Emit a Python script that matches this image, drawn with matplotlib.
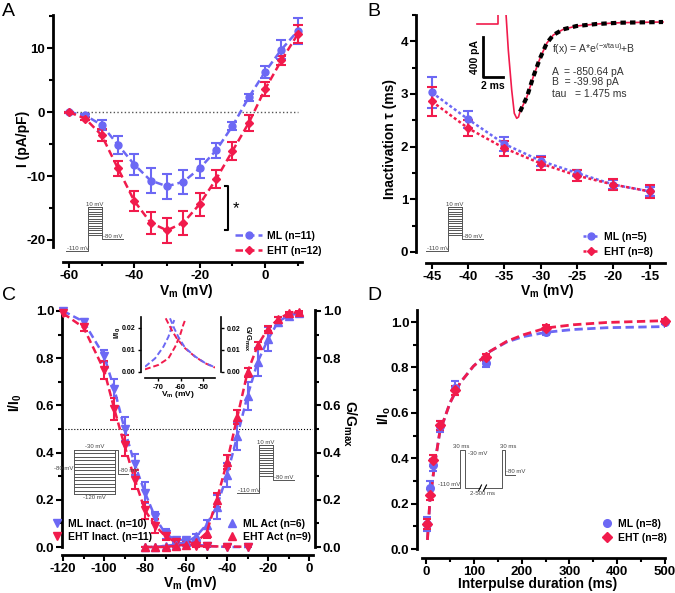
import matplotlib
matplotlib.use('Agg')
import matplotlib.pyplot as plt
from matplotlib.lines import Line2D
from matplotlib.ticker import MultipleLocator, FormatStrFormatter
import numpy as np

plt.rcParams['font.family'] = ['Liberation Sans', 'DejaVu Sans']
plt.rcParams['font.weight'] = 'bold'
plt.rcParams['axes.unicode_minus'] = False
plt.rcParams['mathtext.default'] = 'regular'

W, H = 675, 593
BLUE = '#6c68f4'
RED = '#f11b4c'
GREY = '#555555'

# A: I-V relation
A_v = [-60, -55, -50, -45, -40, -35, -30, -25, -20, -15, -10, -5, 0, 5, 10]
A_ml = [0.0, -0.5, -2.0, -5.1, -8.2, -10.7, -11.6, -10.9, -8.8, -6.0, -2.2, 2.3, 6.3, 9.8, 12.7]
A_ml_err = [0.1, 0.2, 0.8, 1.4, 1.6, 2.0, 2.0, 1.9, 1.5, 1.2, 0.6, 0.5, 0.9, 1.5, 2.1]
A_eht = [0.0, -1.0, -3.6, -8.8, -13.9, -17.3, -18.5, -17.3, -14.4, -10.5, -6.1, -1.7, 3.6, 8.1, 12.2]
A_eht_err = [0.1, 0.3, 0.9, 1.2, 1.6, 1.7, 2.0, 1.9, 1.8, 1.4, 1.4, 1.2, 1.1, 0.7, 1.4]

# B: inactivation time constant
B_v = [-45, -40, -35, -30, -25, -20, -15]
B_ml = [3.03, 2.52, 2.05, 1.73, 1.50, 1.28, 1.15]
B_ml_err = [0.30, 0.16, 0.13, 0.10, 0.06, 0.08, 0.08]
B_eht = [2.86, 2.35, 1.97, 1.68, 1.45, 1.28, 1.15]
B_eht_err = [0.27, 0.15, 0.14, 0.13, 0.10, 0.10, 0.12]

# B inset: example current trace (ms, pA) and its exponential fit
trace_pre_t = [-4.0, -1.93, -1.93]
trace_pre_i = [-60, -60, 40]
trace_t = [-1.1, -0.87, -0.53, -0.27, -0.03, 0.15, 0.3, 1.0, 1.63, 2.3, 2.97, 3.63, 4.63, 5.97, 7.97, 10.3, 14.6]
trace_i = [40, -320, -720, -953, -1003, -990, -937, -787, -587, -403, -253, -170, -113, -80, -60, -47, -40]
fit_t = [0.3, 1.0, 1.63, 2.3, 2.97, 3.63, 4.63, 5.97, 7.97, 10.3, 14.6]
fit_i = [-937, -787, -587, -403, -253, -170, -113, -80, -60, -47, -40]
fit_text = ['f(x) = A*e$^{(-x/tau)}$+B', 'A  = -850.64 pA', 'B  = -39.98 pA', 'tau   = 1.475 ms']

# C: steady-state inactivation and activation
C_inact_v = [-120, -110, -100, -95, -90, -85, -80, -75, -70, -65, -60, -55, -50, -40, -30]
C_ml_inact = [1.0, 0.955, 0.81, 0.67, 0.50, 0.35, 0.23, 0.125, 0.055, 0.03, 0.03, 0.01, 0.005, 0.0, 0.0]
C_ml_inact_err = [0.01, 0.01, 0.025, 0.04, 0.05, 0.045, 0.045, 0.025, 0.02, 0.01, 0.01, 0.005, 0.005, 0.002, 0.002]
C_eht_inact = [0.99, 0.93, 0.75, 0.585, 0.43, 0.285, 0.155, 0.09, 0.045, 0.02, 0.01, 0.005, 0.003, 0.002, 0.001]
C_eht_inact_err = [0.01, 0.015, 0.04, 0.045, 0.045, 0.04, 0.035, 0.03, 0.015, 0.01, 0.005, 0.003, 0.002, 0.002, 0.002]
C_act_v = [-80, -75, -70, -65, -60, -55, -50, -45, -40, -35, -30, -25, -20, -15, -10, -5]
C_ml_act = [0.0, 0.0, 0.005, 0.01, 0.02, 0.045, 0.095, 0.17, 0.305, 0.47, 0.64, 0.785, 0.88, 0.955, 0.98, 0.99]
C_ml_act_err = [0.0, 0.0, 0.0, 0.005, 0.01, 0.01, 0.02, 0.05, 0.05, 0.06, 0.06, 0.06, 0.05, 0.02, 0.01, 0.005]
C_eht_act = [0.0, 0.0, 0.0, 0.005, 0.01, 0.02, 0.06, 0.20, 0.36, 0.55, 0.74, 0.855, 0.925, 0.965, 0.99, 0.995]
C_eht_act_err = [0.0, 0.0, 0.0, 0.003, 0.005, 0.005, 0.02, 0.03, 0.03, 0.03, 0.02, 0.015, 0.01, 0.01, 0.005, 0.003]

# C inset: window current region
win_ml_rise_v = [-75.8, -71.3, -67.6, -65.4, -63.9, -62.8]
win_ml_rise = [0.0024, 0.0062, 0.0115, 0.016, 0.0206, 0.0236]
win_eht_rise_v = [-75.8, -69.9, -65.4, -62.4, -60.2, -58.8, -57.7]
win_eht_rise = [0.0012, 0.0032, 0.0062, 0.0115, 0.0168, 0.0214, 0.0244]
win_eht_fall_v = [-66.6, -63.9, -61.7, -58.0, -53.6, -49.1, -44.7]
win_eht_fall = [0.0244, 0.019, 0.0153, 0.0108, 0.007, 0.004, 0.002]
win_ml_fall_v = [-64.7, -62.8, -61.0, -58.0, -53.6, -49.1, -44.7]
win_ml_fall = [0.0244, 0.0198, 0.016, 0.0110, 0.0071, 0.0041, 0.0021]

# D: recovery from inactivation
D_t = [3, 8, 15, 30, 60, 125, 250, 500]
D_ml = [0.11, 0.27, 0.37, 0.54, 0.71, 0.82, 0.955, 1.0]
D_ml_err = [0.03, 0.03, 0.025, 0.025, 0.03, 0.02, 0.01, 0.01]
D_eht = [0.11, 0.24, 0.39, 0.545, 0.70, 0.845, 0.975, 1.005]
D_eht_err = [0.02, 0.025, 0.025, 0.02, 0.02, 0.015, 0.01, 0.01]
D_fit_t = [3, 8, 17, 29, 50, 71, 99, 134, 169, 204, 252, 308, 378, 500]
D_fit_ml = [0.04, 0.21, 0.357, 0.518, 0.643, 0.731, 0.805, 0.871, 0.912, 0.936, 0.955, 0.967, 0.975, 0.98]
D_fit_eht = [0.04, 0.21, 0.357, 0.518, 0.643, 0.731, 0.805, 0.871, 0.915, 0.944, 0.974, 0.988, 0.998, 1.006]

fig = plt.figure(figsize=(W / 100, H / 100), dpi=100)


def px_axes(l, t, r, b):
    return fig.add_axes([l / W, 1 - b / H, (r - l) / W, (b - t) / H])


def pt(p):  # pixels -> points
    return p * 0.72


def style(ax, left_off, bottom_off, lw=2, size=9.5):
    for s in ['top', 'right']:
        ax.spines[s].set_visible(False)
    ax.spines['left'].set_position(('outward', pt(left_off)))
    ax.spines['bottom'].set_position(('outward', pt(bottom_off)))
    for s in ['left', 'bottom']:
        ax.spines[s].set_linewidth(lw)
    ax.tick_params(which='major', length=4, width=1.5, labelsize=size, pad=1.5)
    ax.tick_params(which='minor', length=2.8, width=1.5)
    ax.patch.set_visible(False)


def errplot(ax, x, y, e, color, marker, ms, dashes=None, lw=1.8, cap=3.5):
    ax.errorbar(x, y, yerr=e, fmt='none', ecolor=color, elinewidth=1.5,
                capsize=cap, capthick=1.5, zorder=3)
    if dashes is None:
        ln, = ax.plot(x, y, ls='none', color=color, marker=marker, ms=ms, zorder=4, clip_on=False)
    else:
        ln, = ax.plot(x, y, color=color, lw=lw, dashes=dashes, marker=marker, ms=ms,
                      zorder=4, clip_on=False)
    return ln


def legend_at(ax, handles, labels, x, y, hl, spacing=0.4):
    return ax.legend(handles, labels, loc='upper left', numpoints=1,
                     bbox_to_anchor=(x / W, 1 - y / H), bbox_transform=fig.transFigure,
                     frameon=False, borderpad=0, borderaxespad=0, handlelength=hl,
                     handletextpad=0.5, labelspacing=spacing,
                     prop={'size': 7.5, 'weight': 'bold'})


def ftext(x, y, s, **kw):
    fig.text(x / W, 1 - y / H, s, **kw)


# ---------- A ----------
axA = px_axes(63, 15, 302, 247)
style(axA, 10, 15)
axA.set_xlim(-61.8, 11.3)
axA.set_ylim(-21.1, 15.2)
axA.xaxis.set_major_locator(MultipleLocator(20))
axA.xaxis.set_minor_locator(MultipleLocator(10))
axA.yaxis.set_major_locator(MultipleLocator(10))
axA.yaxis.set_minor_locator(MultipleLocator(5))
axA.plot([A_v[0], A_v[-1]], [0, 0], ls=':', color=GREY, lw=1, zorder=1)
hA1 = errplot(axA, A_v, A_ml, A_ml_err, BLUE, 'o', 5, dashes=(3, 1.6))
hA2 = errplot(axA, A_v, A_eht, A_eht_err, RED, 'D', 4.5, dashes=(3, 1.6))
bx = -11.3
axA.plot([bx - 1, bx, bx, bx - 1], [min(A_ml), min(A_ml), min(A_eht), min(A_eht)],
         color='k', lw=1.5, clip_on=False)
axA.text(bx + 1.5, (min(A_ml) + min(A_eht)) / 2, '*', fontsize=12, fontweight='normal',
         ha='left', va='center')
legend_at(axA, [hA1, hA2], ['ML (n=11)', 'EHT (n=12)'], 235, 231, 2.6, 0.45)

# ---------- B ----------
axB = px_axes(426, 15, 665, 252)
style(axB, 10, 11)
axB.set_xlim(-45.8, -12.9)
axB.set_ylim(0, 4.5)
axB.set_xticks(B_v)
axB.yaxis.set_major_locator(MultipleLocator(1))
axB.yaxis.set_minor_locator(MultipleLocator(0.5))
hB1 = errplot(axB, B_v, B_ml, B_ml_err, BLUE, 'o', 5, dashes=(1.2, 1.0))
hB2 = errplot(axB, B_v, B_eht, B_eht_err, RED, 'D', 4.5, dashes=(1.2, 1.0))
legend_at(axB, [hB1, hB2], ['ML (n=5)', 'EHT (n=8)'], 583, 232, 1.5, 0.45)

insB = px_axes(470, 15, 670, 125)
insB.set_xlim(-4.7, 15.3)
insB.set_ylim(-1070, 30)
insB.axis('off')
insB.plot(trace_pre_t, trace_pre_i, color=RED, lw=1.2, clip_on=True)
insB.plot(trace_t, trace_i, color=RED, lw=1.2, clip_on=True)
insB.plot(fit_t, fit_i, color='k', lw=3, dashes=(1.3, 1.0))
insB.plot([-3.4, -3.4, -1.4], [-190, -590, -590], color='k', lw=2)
insB.text(-4.2, -390, '400 pA', rotation=90, fontsize=7.5, ha='center', va='center')
insB.text(-2.4, -680, '2 ms', fontsize=7.5, ha='center', va='center')
for txt, yy in zip(fit_text, [49, 72, 82, 94]):
    ftext(552, yy, txt, fontsize=7.5, fontweight='normal', color='#333333', va='center')

# ---------- C ----------
axC = px_axes(62, 310, 313, 547)
style(axC, 0, 8)
axC.set_xlim(-120.5, 1.95)
axC.set_ylim(0, 1.004)
axC.xaxis.set_major_locator(MultipleLocator(20))
axC.xaxis.set_minor_locator(MultipleLocator(10))
axC.yaxis.set_major_locator(MultipleLocator(0.2))
axC.yaxis.set_minor_locator(MultipleLocator(0.1))
axC.yaxis.set_major_formatter(FormatStrFormatter('%.1f'))
axC.axhline(0.5, color='k', lw=0.8, ls=':', zorder=1)
errplot(axC, C_inact_v, C_ml_inact, C_ml_inact_err, BLUE, 'v', 5.5, dashes=(3, 1.6), cap=3)
errplot(axC, C_inact_v, C_eht_inact, C_eht_inact_err, RED, 'v', 5.5, dashes=(3, 1.6), cap=3)
errplot(axC, C_act_v, C_ml_act, C_ml_act_err, BLUE, '^', 5.5, dashes=(3, 1.6), cap=3)
errplot(axC, C_act_v, C_eht_act, C_eht_act_err, RED, '^', 5.5, dashes=(3, 1.6), cap=3)

axC2 = axC.twinx()
axC2.set_ylim(axC.get_ylim())
for s in ['left', 'top', 'bottom']:
    axC2.spines[s].set_visible(False)
axC2.spines['right'].set_linewidth(2)
axC2.spines['right'].set_position(('outward', pt(2)))
axC2.yaxis.set_major_locator(MultipleLocator(0.2))
axC2.yaxis.set_minor_locator(MultipleLocator(0.1))
axC2.yaxis.set_major_formatter(FormatStrFormatter('%.1f'))
axC2.tick_params(which='major', length=4, width=1.5, labelsize=9.5, pad=1.5)
axC2.tick_params(which='minor', length=2.8, width=1.5)
axC2.patch.set_visible(False)

mk = lambda m, c: Line2D([], [], ls='none', marker=m, color=c, ms=5.5)
legC1 = legend_at(axC2, [mk('v', BLUE), mk('v', RED)],
                  ['ML Inact. (n=10)', 'EHT Inact. (n=11)'], 52, 519, 1.0, 0.25)
axC2.add_artist(legC1)
legend_at(axC2, [mk('^', BLUE), mk('^', RED)],
          ['ML Act (n=6)', 'EHT Act (n=9)'], 227, 519, 1.0, 0.25)

insC = px_axes(145, 317, 215, 372)
style(insC, 4, 6, lw=1.2, size=5)
insC.tick_params(which='major', length=2.5, width=1)
insC.set_xlim(-75.8, -44.7)
insC.set_ylim(0, 0.025)
insC.set_xticks([-70, -60, -50])
insC.set_yticks([0, 0.01, 0.02])
insC.yaxis.set_major_formatter(FormatStrFormatter('%.2f'))
insC.tick_params(axis='x', labelsize=5.5)
for vv, yy, c in [(win_ml_rise_v, win_ml_rise, BLUE), (win_eht_rise_v, win_eht_rise, RED),
                  (win_eht_fall_v, win_eht_fall, RED), (win_ml_fall_v, win_ml_fall, BLUE)]:
    insC.plot(vv, yy, color=c, lw=1.4, dashes=(3, 1.5))
insC2 = insC.twinx()
insC2.set_ylim(0, 0.025)
for s in ['left', 'top', 'bottom']:
    insC2.spines[s].set_visible(False)
insC2.spines['right'].set_linewidth(1.2)
insC2.spines['right'].set_position(('outward', pt(6)))
insC2.set_yticks([0, 0.01, 0.02])
insC2.yaxis.set_major_formatter(FormatStrFormatter('%.2f'))
insC2.tick_params(length=2.5, width=1, labelsize=5, pad=2)
insC2.patch.set_visible(False)

# ---------- D ----------
axD = px_axes(422, 310, 665, 549)
style(axD, 5, 9)
axD.set_xlim(-8.4, 500)
axD.set_ylim(0, 1.053)
axD.xaxis.set_major_locator(MultipleLocator(100))
axD.xaxis.set_minor_locator(MultipleLocator(50))
axD.yaxis.set_major_locator(MultipleLocator(0.2))
axD.yaxis.set_minor_locator(MultipleLocator(0.1))
axD.yaxis.set_major_formatter(FormatStrFormatter('%.1f'))
axD.plot(D_fit_t, D_fit_ml, color=BLUE, lw=2, dashes=(3, 1.6), zorder=2)
axD.plot(D_fit_t, D_fit_eht, color=RED, lw=2, dashes=(3, 1.6), zorder=2)
hD1 = errplot(axD, D_t, D_ml, D_ml_err, BLUE, 'o', 5.5, cap=3)
hD2 = errplot(axD, D_t, D_eht, D_eht_err, RED, 'D', 5, cap=3)
legend_at(axD, [hD1, hD2], ['ML (n=8)', 'EHT (n=8)'], 602, 519, 1.0, 0.35)

# ---------- voltage protocols (schematic, pixel coordinates) ----------
ov = fig.add_axes([0, 0, 1, 1], zorder=10)
ov.set_xlim(0, W)
ov.set_ylim(H, 0)
ov.axis('off')
PK = dict(color=GREY, lw=0.7)
PT = dict(fontsize=4.3, fontweight='normal', color='#444444')


def act_protocol(x0, y0, h):
    top, base, rest = y0, y0 + h, y0 + h * 0.73
    xs, xe, xr = x0 + 22, x0 + 36, x0 + 57
    ov.plot([x0, xs, xs, xe, xe, xr], [base, base, top, top, rest, rest], **PK)
    for yy in np.linspace(top, y0 + h * 0.64, 13):
        ov.plot([xs, xe], [yy, yy], **PK)
    ov.text((xs + xe) / 2, top - 0.5, '10 mV', ha='center', va='bottom', **PT)
    ov.text(xe + 1, rest - 0.5, '-80 mV', ha='left', va='bottom', **PT)
    ov.text(x0 + 1, base - 0.5, '-110 mV', ha='left', va='bottom', **PT)


def inact_protocol(x0, y0, w=41, h=44):
    for yy in np.linspace(y0, y0 + h, 14):
        ov.plot([x0, x0 + w], [yy, yy], **PK)
    ov.plot([x0, x0], [y0, y0 + h], **PK)
    ov.plot([x0 + w, x0 + w, x0 + w + 3, x0 + w + 3, x0 + w + 13],
            [y0 + h, y0, y0, y0 + 24, y0 + 24], **PK)
    ov.text(x0 + w / 2, y0 - 0.5, '-30 mV', ha='center', va='bottom', **PT)
    ov.text(x0 + w / 2, y0 + h + 1, '-120 mV', ha='center', va='top', **PT)
    ov.text(x0 - 1, y0 + 19, '-80 mV', ha='right', va='center', **PT)
    ov.text(x0 + w + 4, y0 + 23.5, '-80 mV', ha='left', va='bottom', **PT)


def paired_protocol(x0, y0):
    b = y0 + 38
    ov.plot([x0, x0 + 10, x0 + 10, x0 + 15, x0 + 15, x0 + 30], [b, b, y0, y0, b, b], **PK)
    ov.plot([x0 + 35, x0 + 52, x0 + 52, x0 + 55, x0 + 55, x0 + 65],
            [b, b, y0, y0, y0 + 25, y0 + 25], **PK)
    for xx in [x0 + 30, x0 + 35]:
        ov.plot([xx - 1.5, xx + 1.5], [b + 3, b - 3], color='k', lw=0.8)
    ov.text(x0 + 11, y0 - 0.5, '30 ms', ha='center', va='bottom', **PT)
    ov.text(x0 + 18, y0 + 1, '-30 mV', ha='left', va='top', **PT)
    ov.text(x0 + 58, y0 - 0.5, '30 ms', ha='center', va='bottom', **PT)
    ov.text(x0 + 56, y0 + 24, '-80 mV', ha='left', va='bottom', **PT)
    ov.text(x0 + 10, b - 0.5, '-110 mV', ha='right', va='bottom', **PT)
    ov.text(x0 + 32, b + 3, '2-500 ms', ha='center', va='top', **PT)


act_protocol(66, 207, 44)
act_protocol(426, 207, 44)
act_protocol(237, 445, 48)
inact_protocol(74, 450)
paired_protocol(450, 450)

# ---------- labels ----------
LB = dict(fontsize=10, fontweight='bold', ha='center', va='center')
ftext(23, 139, 'I (pA/pF)', rotation=90, **LB)
ftext(186, 291, 'V$_m$ (mV)', **LB)
ftext(390, 139, 'Inactivation \u03c4 (ms)', rotation=90, **LB)
ftext(547, 291, 'V$_m$ (mV)', **LB)
ftext(15, 403, 'I/I$_0$', rotation=90, **LB)
ftext(350, 423, 'G/G$_{max}$', rotation=270, **LB)
ftext(190, 583, 'V$_m$ (mV)', **LB)
ftext(538, 584, 'Interpulse duration (ms)', **LB)
ftext(384, 415, 'I/I$_o$', rotation=90, **LB)
ftext(178, 395, 'V$_m$ (mV)', fontsize=6, fontweight='bold', ha='center', va='center')
ftext(118, 333, 'I/I$_0$', rotation=90, fontsize=6, fontweight='bold', ha='center', va='center')
ftext(247, 338, 'G/G$_{max}$', rotation=270, fontsize=5.5, fontweight='bold', ha='center', va='center')

PL = dict(fontsize=14, fontweight='normal', ha='left', va='center')
ftext(2, 12, 'A', **PL)
ftext(367, 11, 'B', **PL)
ftext(2, 296, 'C', **PL)
ftext(367, 296, 'D', **PL)

fig.savefig('out.png', dpi=100)
